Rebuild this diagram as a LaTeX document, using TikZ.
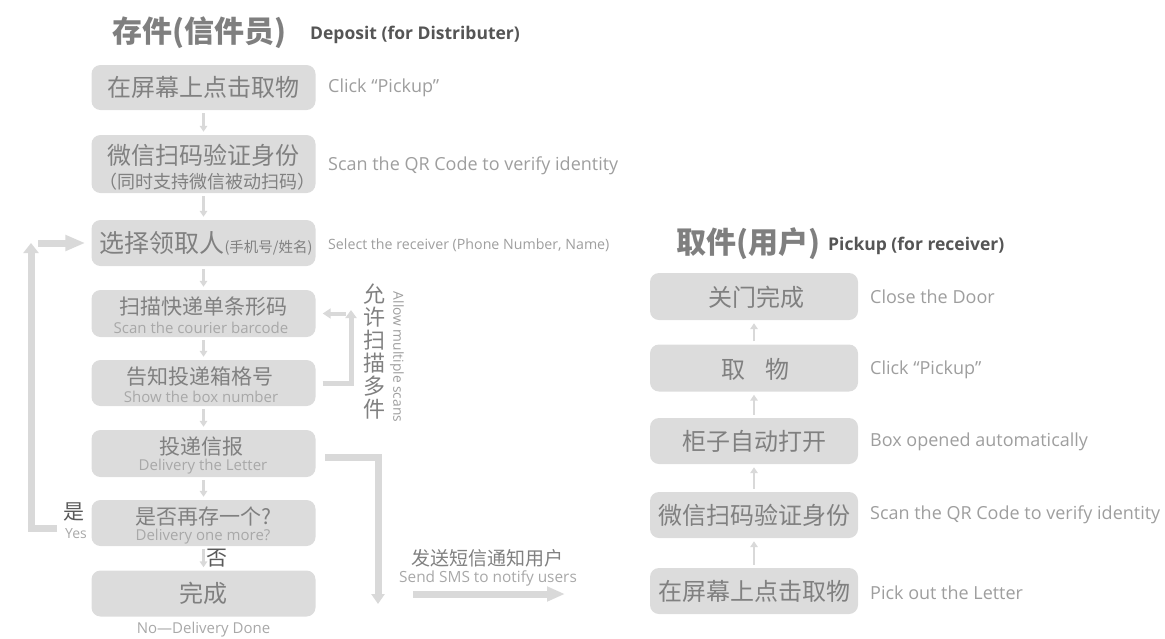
\documentclass[tikz,border=0pt]{standalone}
\usepackage{fontspec}
\setmainfont{Open Sans}
\newfontfamily\cjk{Noto Sans CJK SC}
\usetikzlibrary{arrows.meta}
\definecolor{boxgray}{HTML}{DCDCDC}
\definecolor{maintext}{HTML}{808080}
\definecolor{subtext}{HTML}{A8A8A8}
\definecolor{labeltext}{HTML}{9E9E9E}
\definecolor{arrowgray}{HTML}{D9D9D9}
\definecolor{titlecn}{HTML}{7F7F7F}
\definecolor{titleen}{HTML}{555555}
\definecolor{yesno}{HTML}{5A5A5A}
\begin{document}
\begin{tikzpicture}[x=1pt,y=-1pt,
  stepbox/.style={fill=boxgray, rounded corners=9pt, inner sep=0pt, minimum width=224pt, minimum height=46pt},
  rbox/.style={stepbox, minimum width=208pt},
  cnbig/.style={font=\cjk\fontsize{24}{24}\selectfont, text=maintext, inner sep=0pt},
  cn/.style={font=\cjk\fontsize{21}{21}\selectfont, text=maintext, inner sep=0pt},
  sub/.style={font=\fontsize{15}{15}\selectfont, text=subtext, inner sep=0pt},
  lbl/.style={font=\fontsize{18}{18}\selectfont, text=labeltext, anchor=west, inner sep=0pt},
  thinarrow/.style={draw=arrowgray, line width=2.2pt, -{Triangle[width=7.5pt,length=6pt]}, shorten <=3pt, shorten >=3pt},
  fat/.style={draw=arrowgray, line width=7pt},
]
\path[use as bounding box] (0,0) rectangle (1165,638);

% ---------- titles ----------
\node[anchor=west, inner sep=0pt, font=\cjk\bfseries\fontsize{30}{30}\selectfont, text=titlecn] (t1) at (112,33) {存件(信件员)};
\node[anchor=west, inner sep=0pt, font=\bfseries\fontsize{17.5}{17.5}\selectfont, text=titleen] (t1e) at (310,35) {Deposit (for Distributer)};
\node[anchor=west, inner sep=0pt, font=\cjk\bfseries\fontsize{30}{30}\selectfont, text=titlecn] (t2) at (676,244) {取件(用户)};
\node[anchor=west, inner sep=0pt, font=\bfseries\fontsize{17.5}{17.5}\selectfont, text=titleen] (t2e) at (828,246) {Pickup (for receiver)};

% ---------- left boxes ----------
\node[stepbox, minimum height=45pt] (b1) at (203.5,87.5) {};
\node[stepbox, minimum height=58pt] (b2) at (203.5,164) {};
\node[stepbox] (b3) at (203.5,243) {};
\node[stepbox, minimum height=47pt] (b4) at (203.5,313.5) {};
\node[stepbox] (b5) at (203.5,383) {};
\node[stepbox, minimum height=47pt] (b6) at (203.5,453.5) {};
\node[stepbox] (b7) at (203.5,523) {};
\node[stepbox] (b8) at (203.5,593.5) {};

\node[cnbig] (b1t) at (203.5,87) {在屏幕上点击取物};
\node[cnbig] (b2t) at (203.5,155) {微信扫码验证身份};
\node[font=\cjk\fontsize{18}{18}\selectfont, text=maintext, inner sep=0pt] (b2s) at (207,182) {（同时支持微信被动扫码）};
\node[inner sep=0pt, text=maintext] (b3t) at (206,243) {{\cjk\fontsize{25}{25}\selectfont 选择领取人}{\cjk\fontsize{14.5}{14.5}\selectfont (手机号/姓名)}};
\node[cn] (b4t) at (203.5,307) {扫描快递单条形码};
\node[sub] (b4s) at (201,328) {Scan the courier barcode};
\node[cn] (b5t) at (200,377) {告知投递箱格号};
\node[sub] (b5s) at (201,397) {Show the box number};
\node[cn] (b6t) at (201,447) {投递信报};
\node[sub] (b6s) at (203,467) {Delivery the Letter};
\node[cn] (b7t) at (203,517) {是否再存一个?};
\node[sub] (b7s) at (203,537) {Delivery one more?};
\node[cnbig] (b8t) at (203.5,593) {完成};
\node[font=\fontsize{15}{15}\selectfont, text=subtext, inner sep=0pt] (done) at (203.5,630) {No—Delivery Done};

% labels
\node[lbl] (l1) at (328,88) {Click “Pickup”};
\node[lbl] (l2) at (328,166) {Scan the QR Code to verify identity};
\node[lbl, font=\fontsize{14.2}{14.2}\selectfont] (l3) at (328,245) {Select the receiver (Phone Number, Name)};

% thin arrows left
\draw[thinarrow] (b1) -- (b2);
\draw[thinarrow] (b2) -- (b3);
\draw[thinarrow] (b3) -- (b4);
\draw[thinarrow] (b4) -- (b5);
\draw[thinarrow] (b5) -- (b6);
\draw[thinarrow] (b6) -- (b7);
\draw[thinarrow] (b7) -- (b8);

% yes / no
\node[font=\cjk\fontsize{21}{21}\selectfont, text=yesno, inner sep=0pt] (yes) at (74,512) {是};
\node[font=\fontsize{14}{14}\selectfont, text=subtext, inner sep=0pt] (yese) at (76,534) {Yes};
\node[font=\cjk\fontsize{21}{21}\selectfont, text=yesno, inner sep=0pt] (no) at (217,558) {否};

% loop back
\coordinate (loopS) at (57,528);
\coordinate (loopT) at (31,243);
\coordinate (loopH) at (38,243);
\draw[fat, -{Triangle[width=15pt,length=10pt]}] (loopS) -| (loopT);
\draw[fat, -{Triangle[width=15pt,length=20pt]}, shorten >=6pt] (loopH) -- (b3.west);

% allow multiple scans
\coordinate (scanTop) at (351,310);
\coordinate (scanL) at (346,313.5);
\draw[draw=arrowgray, line width=5pt, -{Triangle[width=11pt,length=8pt]}, shorten <=7pt] (b5.east) -| (scanTop);
\draw[draw=arrowgray, line width=4pt, -{Triangle[width=10pt,length=8pt]}, shorten >=7pt] (scanL) -- (b4.east);
\node[font=\cjk\fontsize{22}{23}\selectfont, text=maintext, inner sep=0pt, align=center] (multi) at (374,352) {允\\许\\扫\\描\\多\\件};
\node[font=\fontsize{13.8}{13.8}\selectfont, text=labeltext, inner sep=0pt, rotate=-90] (multie) at (397,357) {Allow multiple scans};

% SMS
\coordinate (smsStart) at (325,457);
\coordinate (smsEnd) at (378,604);
\draw[fat, -{Triangle[width=13pt,length=10pt]}] (smsStart) -| (smsEnd);
\node[font=\cjk\fontsize{19}{19}\selectfont, text=maintext, inner sep=0pt] (smst) at (487,558) {发送短信通知用户};
\node[sub, font=\fontsize{15.4}{15.4}\selectfont] (smse) at (488,578) {Send SMS to notify users};
\coordinate (smsA) at (413,594);
\coordinate (smsB) at (565,594);
\draw[draw=arrowgray, line width=7pt, -{Triangle[width=14pt,length=18pt]}] (smsA) -- (smsB);

% ---------- right boxes ----------
\node[rbox, minimum height=47pt] (r1) at (754,296.5) {};
\node[rbox, minimum height=47pt] (r2) at (754,368) {};
\node[rbox] (r3) at (754,441) {};
\node[rbox] (r4) at (754,515) {};
\node[rbox] (r5) at (754,591) {};

\node[cnbig] (r1t) at (756,297) {关门完成};
\node[cnbig] (r2t) at (755,369) {取\hspace{20pt}物};
\node[cnbig] (r3t) at (754,441) {柜子自动打开};
\node[cnbig] (r4t) at (754,515) {微信扫码验证身份};
\node[cnbig] (r5t) at (754,591) {在屏幕上点击取物};

\node[lbl] (rl1) at (870,297) {Close the Door};
\node[lbl] (rl2) at (870,370) {Click “Pickup”};
\node[lbl] (rl3) at (870,442) {Box opened automatically};
\node[lbl] (rl4) at (870,515) {Scan the QR Code to verify identity};
\node[lbl] (rl5) at (870,593) {Pick out the Letter};

\draw[thinarrow] (r2) -- (r1);
\draw[thinarrow] (r3) -- (r2);
\draw[thinarrow] (r4) -- (r3);
\draw[thinarrow] (r5) -- (r4);
\end{tikzpicture}
\end{document}
